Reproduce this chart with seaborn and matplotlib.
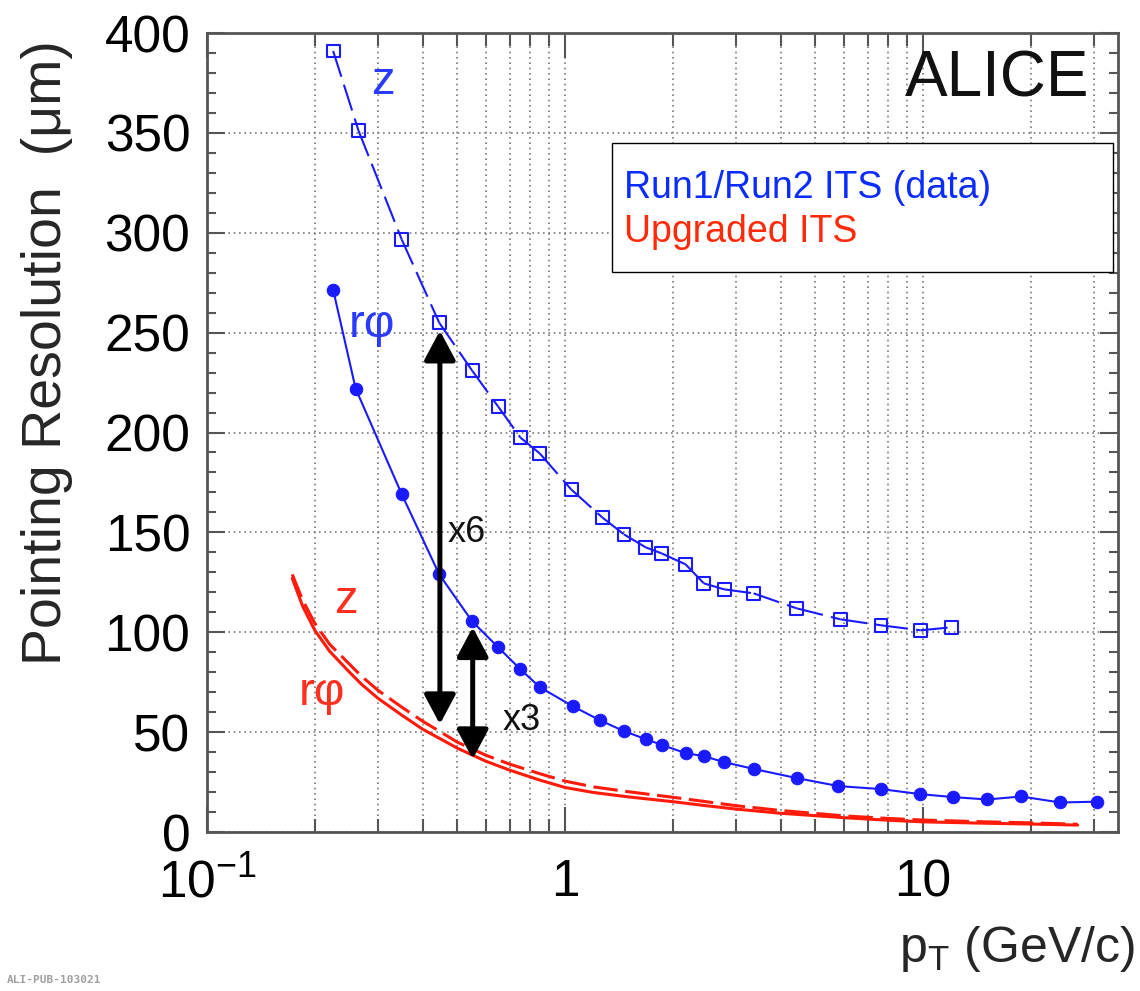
import matplotlib
matplotlib.use("Agg")
import matplotlib.pyplot as plt
from matplotlib.patches import Rectangle
from matplotlib.ticker import MultipleLocator, LogLocator, NullFormatter
import seaborn as sns

sns.set_theme(style="ticks")
plt.rcParams["font.family"] = ["Liberation Sans", "DejaVu Sans"]
plt.rcParams["mathtext.fontset"] = "custom"
plt.rcParams["mathtext.rm"] = "Liberation Sans"

# Run1/Run2 ITS data, z (open squares)
pt_z = [0.225, 0.265, 0.35, 0.445, 0.55, 0.65, 0.75, 0.85, 1.04, 1.27, 1.46,
        1.68, 1.86, 2.17, 2.44, 2.78, 3.36, 4.43, 5.87, 7.62, 9.84, 12.0]
res_z = [391, 351, 296.5, 255, 231, 213, 197.5, 189.5, 171.5, 157.5, 149,
         142.5, 139.5, 134, 124.5, 121.5, 119.5, 112, 106.5, 103.5, 101, 102.5]

# Run1/Run2 ITS data, r-phi (filled circles)
pt_rphi = [0.225, 0.26, 0.35, 0.445, 0.55, 0.65, 0.75, 0.85, 1.05, 1.25, 1.46,
           1.68, 1.87, 2.17, 2.44, 2.78, 3.38, 4.44, 5.8, 7.63, 9.8, 12.1,
           15.1, 18.8, 24.1, 30.6]
res_rphi = [271.5, 222, 169, 129, 105.5, 92.5, 81.5, 72.5, 63, 56, 50.5,
            46.5, 43.5, 39.5, 38, 35, 31.5, 27, 23, 21.5, 19, 17.5,
            16.3, 17.8, 14.8, 15.2]

# Upgraded ITS expectation
pt_upg = [0.173, 0.185, 0.2, 0.22, 0.25, 0.27, 0.3, 0.35, 0.4, 0.45, 0.5,
          0.6, 0.7, 0.85, 1.0, 1.2, 1.5, 2.0, 2.5, 3.0, 4.0, 6.0, 8.0,
          10, 15, 20, 27]
res_upg_rphi = [127, 113, 101, 90.5, 80, 74, 67, 58.5, 51.5, 46.5, 42,
                35.5, 31, 26, 22.3, 19.8, 17.6, 15.2, 13.1, 11.5, 9.4, 7.2, 5.9,
                5.1, 4.4, 4.0, 3.5]
res_upg_z = [129, 116, 104.5, 94, 84, 78, 71, 62.5, 55.5, 50, 45,
             38.5, 34, 29.2, 25.5, 22.6, 20.2, 17.4, 15.1, 13.2, 10.8, 8.1, 6.8,
             6.0, 5.1, 4.6, 3.9]

# improvement arrows: (pT, top, bottom)
arrows = [(0.447, 251, 54), (0.552, 102.5, 36.5)]

blue = "#1a1aff"
red = "#ff1a0a"
frame = "#555555"

fig = plt.figure(figsize=(11.4, 9.91), dpi=100)
ax = fig.add_axes([0.1816, 0.1604, 0.7991, 0.8063])
ax.set_xscale("log")

# red curves
sns.lineplot(x=pt_upg, y=res_upg_rphi, ax=ax, color=red, linewidth=2.2,
             sort=False, zorder=3)
sns.lineplot(x=pt_upg, y=res_upg_z, ax=ax, color=red, linewidth=2.2,
             linestyle=(0, (8, 2.5)), sort=False, zorder=3)

# blue r-phi
sns.lineplot(x=pt_rphi, y=res_rphi, ax=ax, color=blue, linewidth=1.5,
             marker="o", markersize=9, markerfacecolor=blue,
             markeredgecolor=blue, sort=False, zorder=4)

# blue z: dashed segments, pattern restarting on each segment
for i in range(len(pt_z) - 1):
    ax.plot(pt_z[i:i + 2], res_z[i:i + 2], color=blue, lw=1.5,
            linestyle=(0, (13, 4)), zorder=4)
sns.scatterplot(x=pt_z, y=res_z, ax=ax, marker="s", s=85, facecolor="none",
                edgecolor=blue, linewidth=1.5, zorder=5)

# arrows
for x, top, bot in arrows:
    ax.annotate("", xy=(x, top), xytext=(x, bot),
                arrowprops=dict(arrowstyle="<|-|>,head_length=0.9,head_width=0.48",
                                color="black", lw=3.6, shrinkA=0, shrinkB=0,
                                mutation_scale=20), zorder=6)
ax.text(0.471, 145, "x6", fontsize=26, color="#111111", va="baseline")
ax.text(0.67, 51, "x3", fontsize=26, color="#111111", va="baseline")

# curve labels
ax.text(0.287, 369.5, "z", fontsize=34, color="#2a3aff", va="baseline")
ax.text(0.249, 248, "rφ", fontsize=34, color="#2a3aff", va="baseline")
ax.text(0.2264, 109.5, "z", fontsize=34, color="#ff3020", va="baseline")
ax.text(0.1807, 63.5, "rφ", fontsize=34, color="#ff3020", va="baseline")

# legend box
ax.add_patch(Rectangle((0.4446, 0.7009), 0.55, 0.1614, transform=ax.transAxes,
                       facecolor="white", edgecolor="black", lw=1, zorder=7))
ax.text(0.4577, 0.7935, "Run1/Run2 ITS (data)", transform=ax.transAxes,
        fontsize=27, color="#0b2cff", va="baseline", zorder=8)
ax.text(0.4577, 0.7384, "Upgraded ITS", transform=ax.transAxes,
        fontsize=27, color="#ff2a0a", va="baseline", zorder=8)

ax.text(0.766, 0.92, "ALICE", transform=ax.transAxes, fontsize=46,
        color="#111111", va="baseline")

# axes
ax.set_xlim(0.1, 35)
ax.set_ylim(0, 400)
ax.xaxis.set_minor_locator(LogLocator(base=10, subs=range(2, 10), numticks=50))
ax.set_xticks([0.1, 1, 10], [r"10$^{\mathregular{-1}}$", "1", "10"])
ax.xaxis.set_minor_formatter(NullFormatter())
ax.yaxis.set_major_locator(MultipleLocator(50))
ax.yaxis.set_minor_locator(MultipleLocator(10))

ax.grid(which="both", axis="x", color="#7a7a7a", lw=1.2, linestyle=(0, (1, 2.2)), zorder=0)
ax.grid(which="major", axis="y", color="#7a7a7a", lw=1.2, linestyle=(0, (1, 2.2)), zorder=0)
ax.set_axisbelow(True)

ax.tick_params(which="both", direction="in", top=True, right=True,
               color=frame, width=1.5, labelsize=37, labelcolor="black")
ax.tick_params(axis="y", which="major", length=13, pad=12)
ax.tick_params(axis="y", which="minor", length=6.5)
ax.tick_params(axis="x", which="major", length=18, pad=19)
ax.tick_params(axis="x", which="minor", length=9.5)
for sp in ax.spines.values():
    sp.set_color(frame)
    sp.set_linewidth(2)

ax.set_xlabel("")
ax.set_ylabel("")
fig.text(0.0412, 1 - 40 / 991, "Pointing Resolution  (μm)", rotation=90,
         fontsize=40, ha="center", va="top")
fig.text(0.9956, 0.0293, r"p$_{\mathregular{T}}$ (GeV/c)", fontsize=36,
         ha="right", va="baseline")
fig.text(0.006, 0.006, "ALI-PUB-103021", fontsize=8, family="DejaVu Sans Mono",
         weight="bold", color="#a0a0a0", ha="left", va="bottom")

fig.savefig("out.png", dpi=100)
